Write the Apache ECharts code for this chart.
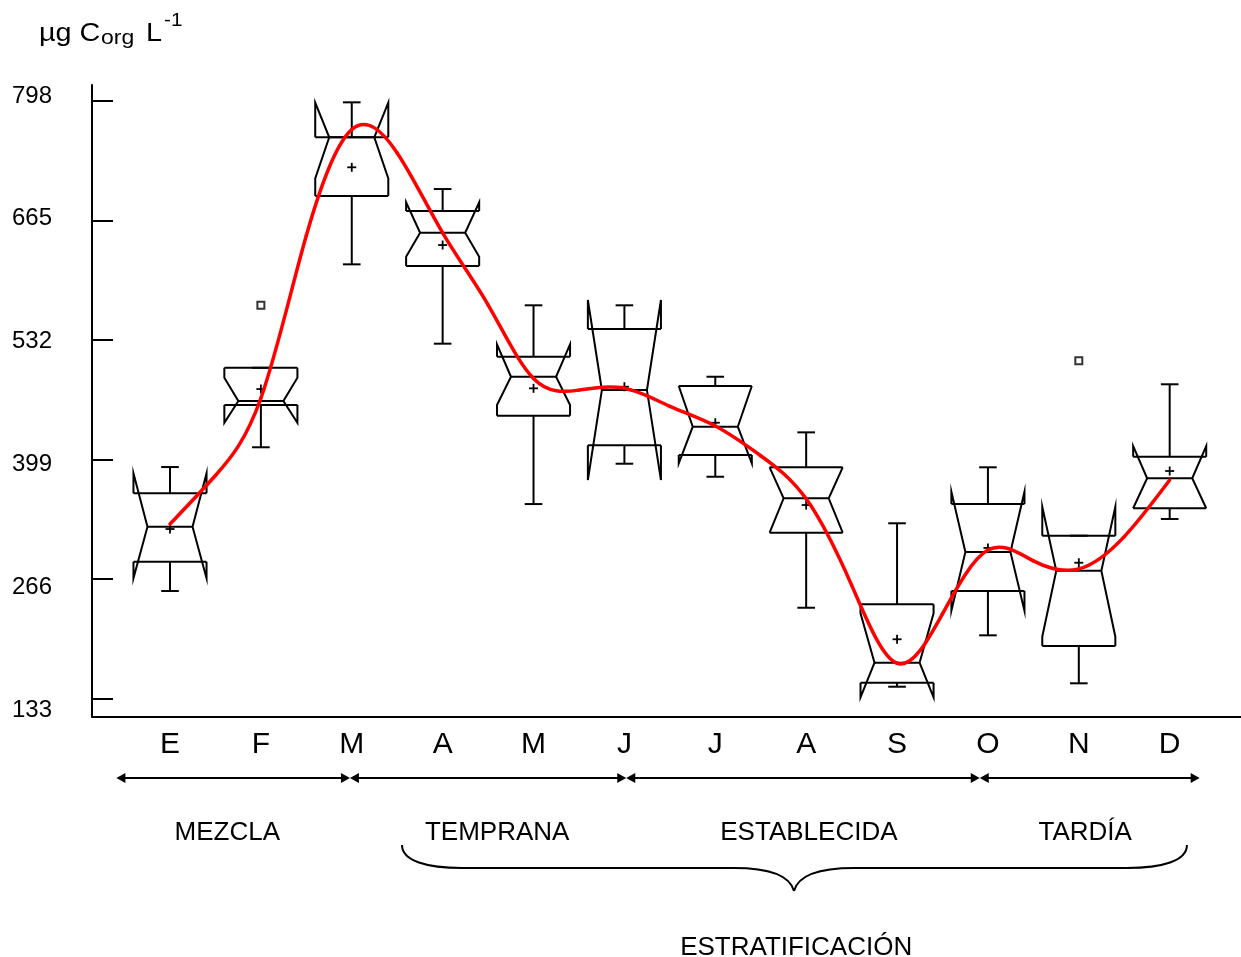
<!DOCTYPE html>
<html>
<head>
<meta charset="utf-8">
<script src="https://cdn.jsdelivr.net/npm/echarts@6/dist/echarts.min.js"></script>
<style>
  html, body { margin: 0; padding: 0; background: #fff; }
  #chart { width: 1241px; height: 957px; }
</style>
</head>
<body>
<div id="chart"></div>
<script>
// Monthly organic carbon (µg Corg L-1): notched box plots per month
const months = ['E', 'F', 'M', 'A', 'M', 'J', 'J', 'A', 'S', 'O', 'N', 'D'];
const whiskerLow  = [252.4, 412.4, 616.0, 527.7, 349.2, 394.1, 379.6, 233.8, 145.9, 203.1, 149.7, 332.6];
const q1          = [285.0, 459.4, 692.0, 614.1, 447.5, 414.6, 403.8, 317.3, 150.4, 252.4, 191.2, 344.5];
const notchLow    = [266.6, 439.7, 711.7, 624.5, 459.4, 376.0, 394.5, 317.3, 134.1, 230.5, 201.6, 344.5];
const median      = [324.0, 463.9, 757.4, 651.2, 490.9, 476.1, 435.3, 355.6, 172.6, 295.8, 275.0, 377.9];
const notchHigh   = [383.4, 489.8, 796.0, 685.0, 527.0, 576.3, 480.6, 390.1, 227.6, 362.9, 346.2, 413.8];
const q3          = [361.2, 500.9, 757.4, 675.3, 513.2, 544.0, 480.6, 390.1, 237.6, 349.2, 314.0, 401.9];
const whiskerHigh = [390.4, 500.9, 796.3, 699.8, 570.4, 570.4, 490.9, 429.0, 327.8, 390.1, 314.0, 482.5];
const means       = [321.4, 477.2, 724.0, 637.5, 478.0, 479.8, 439.7, 348.1, 198.7, 300.3, 283.9, 386.0];
// outliers as month number and value
const outlierMonth = [2, 11];
const outlierValue = [570.4, 508.7];
// seasonal trend curve, sampled every half month
const trendMonth = [1, 1.5, 2, 2.5, 3, 3.5, 4, 4.5, 5, 5.5, 6, 6.5, 7, 7.5, 8, 8.5, 9, 9.5, 10, 10.5, 11, 11.5, 12];
const trendValue = [327, 381, 467, 648, 766, 740, 651, 571, 489, 476, 478, 458, 436, 403, 355, 259, 172, 227, 298, 286, 277, 313, 376];
const yTicks = [133, 266, 399, 532, 665, 798];

// stratification phases along the month axis
const phases = ['MEZCLA', 'TEMPRANA', 'ESTABLECIDA', 'TARDÍA'];
const phaseEdges = [0.41, 2.98, 6.02, 9.91, 12.33];
const phaseCenters = [1.63, 4.6, 8.03, 11.07];
const braceSpan = [3.553, 7.866, 12.19];
const braceTitle = 'ESTRATIFICACIÓN';

const FONT = '"Liberation Sans", Arial, Helvetica, sans-serif';
const BLACK = '#000';

const chart = echarts.init(document.getElementById('chart'), null, { renderer: 'canvas' });

const boxData = months.map((m, k) => [k + 1, whiskerLow[k], q1[k], notchLow[k], median[k], notchHigh[k], q3[k], whiskerHigh[k]]);
const meanData = means.map((v, k) => [k + 1, v]);
const outlierData = outlierMonth.map((m, k) => [m, outlierValue[k]]);
const trendData = trendMonth.map((m, k) => [m, trendValue[k]]);

const HW = 0.402, NW = 0.248, CAP = 0.097;
const lineStyle = { stroke: BLACK, fill: null, lineWidth: 2 };

function renderBox(params, api) {
  const i = api.value(0);
  const wl = api.value(1), ql = api.value(2), nl = api.value(3), md = api.value(4),
        nh = api.value(5), qh = api.value(6), wh = api.value(7);
  const p = (dx, v) => api.coord([i + dx, v]);
  const poly = pts => ({ type: 'polyline', shape: { points: pts }, style: lineStyle });
  return {
    type: 'group',
    children: [
      poly([p(-HW, ql), p(-HW, nl), p(-NW, md), p(-HW, nh), p(-HW, qh)]),
      poly([p(HW, ql), p(HW, nl), p(NW, md), p(HW, nh), p(HW, qh)]),
      poly([p(-HW, ql), p(HW, ql)]),
      poly([p(-HW, qh), p(HW, qh)]),
      poly([p(-NW, md), p(NW, md)]),
      poly([p(0, qh), p(0, wh)]),
      poly([p(-CAP, wh), p(CAP, wh)]),
      poly([p(0, ql), p(0, wl)]),
      poly([p(-CAP, wl), p(CAP, wl)])
    ]
  };
}

function renderMean(params, api) {
  const c = api.coord([api.value(0), api.value(1)]);
  const s = 4.5;
  const st = { stroke: BLACK, lineWidth: 1.8 };
  return {
    type: 'group',
    children: [
      { type: 'line', shape: { x1: c[0] - s, y1: c[1], x2: c[0] + s, y2: c[1] }, style: st },
      { type: 'line', shape: { x1: c[0], y1: c[1] - s, x2: c[0], y2: c[1] + s }, style: st }
    ]
  };
}

// Natural cubic spline slopes for equally spaced knots (spacing h)
function splineSlopes(y, h) {
  const n = y.length - 1;
  const M = new Array(n + 1).fill(0);
  const a = [], b = [], c = [], d = [];
  for (let i = 1; i < n; i++) {
    a.push(1); b.push(4); c.push(1);
    d.push(6 * (y[i + 1] - 2 * y[i] + y[i - 1]) / (h * h));
  }
  const m = d.length;
  for (let i = 1; i < m; i++) {
    const w = a[i] / b[i - 1];
    b[i] -= w * c[i - 1];
    d[i] -= w * d[i - 1];
  }
  const sol = new Array(m);
  sol[m - 1] = d[m - 1] / b[m - 1];
  for (let i = m - 2; i >= 0; i--) sol[i] = (d[i] - c[i] * sol[i + 1]) / b[i];
  for (let i = 1; i < n; i++) M[i] = sol[i - 1];
  const s = [];
  for (let i = 0; i < n; i++) s.push((y[i + 1] - y[i]) / h - h * (2 * M[i] + M[i + 1]) / 6);
  s.push((y[n] - y[n - 1]) / h + h * (M[n - 1] + 2 * M[n]) / 6);
  return s;
}

function renderTrend(params, api) {
  const pts = trendData;
  const h = pts[1][0] - pts[0][0];
  const s = splineSlopes(pts.map(q => q[1]), h);
  const c = (x, v) => api.coord([x, v]);
  const children = [];
  for (let i = 0; i < pts.length - 1; i++) {
    const [x0, y0] = pts[i], [x1, y1] = pts[i + 1];
    const p0 = c(x0, y0), p3 = c(x1, y1);
    const p1 = c(x0 + h / 3, y0 + s[i] * h / 3);
    const p2 = c(x1 - h / 3, y1 - s[i + 1] * h / 3);
    children.push({
      type: 'bezierCurve',
      shape: { x1: p0[0], y1: p0[1], cpx1: p1[0], cpy1: p1[1], cpx2: p2[0], cpy2: p2[1], x2: p3[0], y2: p3[1] },
      style: { stroke: '#ff0000', fill: null, lineWidth: 3.5, lineCap: 'round' }
    });
  }
  return { type: 'group', children };
}

const xMin = 0.1417, xMax = 12.7847;

chart.setOption({
  animation: false,
  backgroundColor: '#fff',
  grid: { left: 92, right: 0, top: 85, bottom: 240, containLabel: false },
  xAxis: {
    type: 'value', min: xMin, max: xMax,
    axisLine: { show: true, lineStyle: { color: BLACK, width: 2 } },
    axisTick: { show: false },
    splitLine: { show: false },
    axisLabel: {
      customValues: months.map((m, k) => k + 1),
      formatter: v => months[Math.round(v) - 1],
      color: BLACK, fontFamily: FONT, fontSize: 30, margin: 13
    }
  },
  yAxis: [
    {
      type: 'value', min: 112.2, max: 815.6,
      axisLine: { show: true, lineStyle: { color: BLACK, width: 2 } },
      axisTick: { show: true, inside: true, length: 21, customValues: yTicks, lineStyle: { color: BLACK, width: 2 } },
      axisLabel: { show: false },
      splitLine: { show: false }
    },
    {
      type: 'value', min: 125.4, max: 809.9, position: 'left', offset: 0,
      axisLine: { show: false }, axisTick: { show: false }, splitLine: { show: false },
      axisLabel: { customValues: yTicks, color: BLACK, fontFamily: FONT, fontSize: 24, margin: 40 }
    }
  ],
  series: [
    {
      type: 'custom', name: 'boxes', renderItem: renderBox, data: boxData,
      encode: { x: 0, y: [1, 2, 3, 4, 5, 6, 7] }, z: 2
    },
    {
      type: 'custom', name: 'means', renderItem: renderMean, data: meanData,
      encode: { x: 0, y: 1 }, z: 3
    },
    {
      type: 'scatter', name: 'outliers', data: outlierData, symbol: 'rect', symbolSize: 7,
      itemStyle: { color: '#fff', borderColor: BLACK, borderWidth: 2 }, z: 3
    },
    {
      type: 'custom', name: 'trend', renderItem: renderTrend, data: [trendData[0]],
      encode: { x: 0, y: 1 }, z: 5
    }
  ]
});

// Annotations below the month axis: phase arrows, labels and the brace
const px = v => chart.convertToPixel({ xAxisIndex: 0 }, v);
const graphics = [];
const arrowY = 778;
const headL = 9, headH = 5;
for (let k = 0; k < phases.length; k++) {
  const a = px(phaseEdges[k]), b = px(phaseEdges[k + 1]);
  graphics.push({ type: 'line', shape: { x1: a + 4, y1: arrowY, x2: b - 4, y2: arrowY }, style: { stroke: BLACK, lineWidth: 2 } });
  graphics.push({ type: 'polygon', shape: { points: [[a, arrowY], [a + headL, arrowY - headH], [a + headL, arrowY + headH]] }, style: { fill: BLACK } });
  graphics.push({ type: 'polygon', shape: { points: [[b, arrowY], [b - headL, arrowY - headH], [b - headL, arrowY + headH]] }, style: { fill: BLACK } });
  graphics.push({
    type: 'text', x: px(phaseCenters[k]), y: 833,
    style: { text: phases[k], fontFamily: FONT, fontSize: 26, fill: BLACK, align: 'center', verticalAlign: 'middle' }
  });
}
const L = px(braceSpan[0]), T = px(braceSpan[1]), R = px(braceSpan[2]);
const yTop = 845, yMid = 868, yTip = 891;
const braceStyle = { stroke: BLACK, fill: null, lineWidth: 2 };
const bez = (x1, y1, cx1, cy1, cx2, cy2, x2, y2) => ({
  type: 'bezierCurve', shape: { x1, y1, cpx1: cx1, cpy1: cy1, cpx2: cx2, cpy2: cy2, x2, y2 }, style: braceStyle
});
graphics.push(bez(L, yTop, L, yTop + 16, L + 25, yMid, L + 60, yMid));
graphics.push({ type: 'line', shape: { x1: L + 60, y1: yMid, x2: T - 60, y2: yMid }, style: braceStyle });
graphics.push(bez(T - 60, yMid, T - 25, yMid, T - 4, yMid + 8, T, yTip));
graphics.push(bez(T, yTip, T + 4, yMid + 8, T + 25, yMid, T + 60, yMid));
graphics.push({ type: 'line', shape: { x1: T + 60, y1: yMid, x2: R - 60, y2: yMid }, style: braceStyle });
graphics.push(bez(R - 60, yMid, R - 25, yMid, R, yTop + 16, R, yTop));
graphics.push({
  type: 'text', x: px(7.89), y: 948,
  style: { text: braceTitle, fontFamily: FONT, fontSize: 26, fill: BLACK, align: 'center', verticalAlign: 'middle' }
});
// Axis unit label (slightly wide lettering)
const unitText = (text, x, y, size) => ({
  type: 'text', x, y, scaleX: 1.15,
  style: { text, fontFamily: FONT, fontSize: size, fill: BLACK, align: 'left', verticalAlign: 'middle' }
});
graphics.push(unitText('µg C', 39, 34.5, 25));
graphics.push(unitText('org', 101, 38.5, 20));
graphics.push(unitText('L', 146, 34.5, 25));
graphics.push(unitText('-1', 164, 21.5, 18));

chart.setOption({ graphic: graphics });
</script>
</body>
</html>
